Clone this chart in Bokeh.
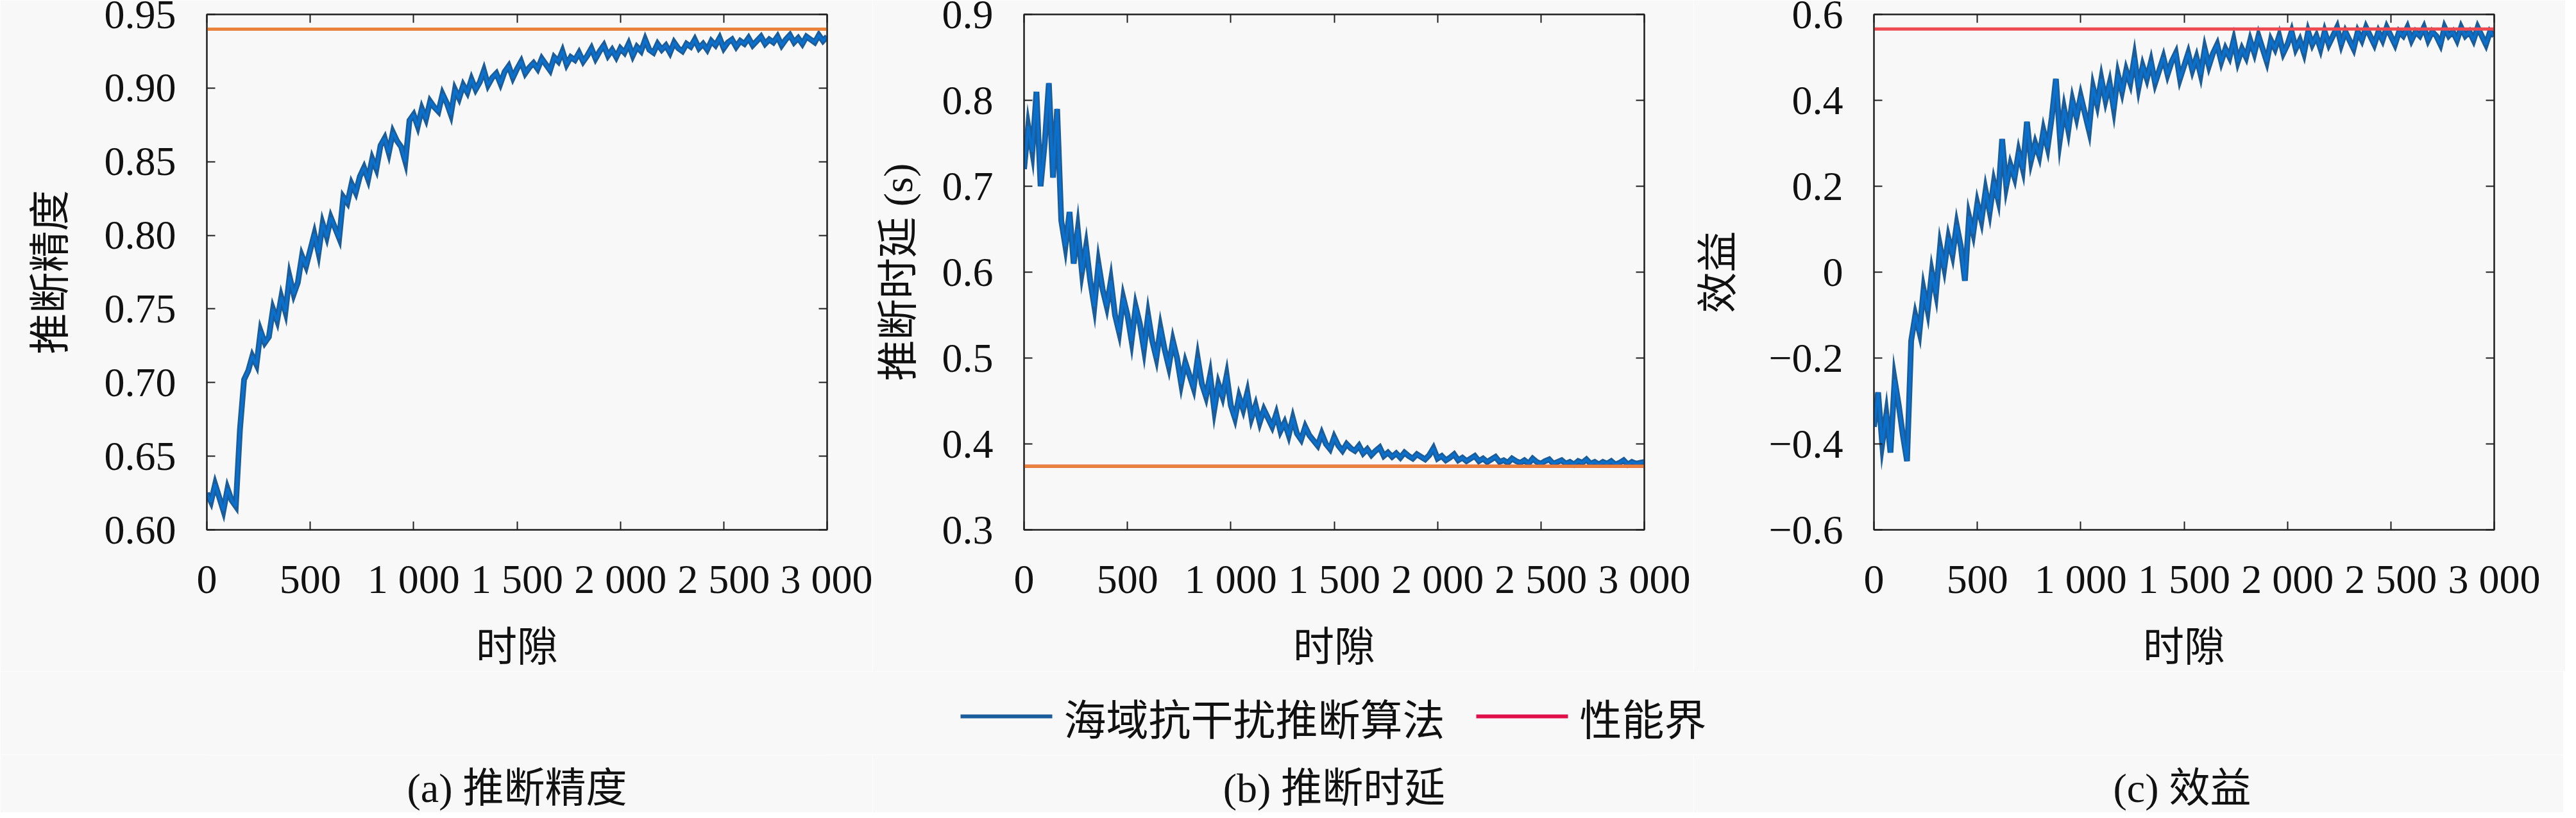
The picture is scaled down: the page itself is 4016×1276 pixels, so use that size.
from bokeh.plotting import figure
from bokeh.models import Range1d, LinearAxis, FixedTicker
from bokeh.layouts import row, column
from bokeh.core.properties import value
from bokeh.embed import file_html
from bokeh.resources import INLINE

# ---------------- data ----------------
slots = list(range(0, 3001, 20))

acc = [
    0.625, 0.619, 0.631, 0.622, 0.613, 0.628, 0.620, 0.616, 0.668, 0.702,
    0.708, 0.718, 0.712, 0.735, 0.727, 0.731, 0.750, 0.742, 0.758, 0.748,
    0.772, 0.760, 0.768, 0.786, 0.779, 0.790, 0.801, 0.788, 0.808, 0.799,
    0.812, 0.805, 0.798, 0.826, 0.822, 0.835, 0.829, 0.840, 0.846, 0.838,
    0.852, 0.845, 0.861, 0.866, 0.856, 0.870, 0.864, 0.860, 0.850, 0.878,
    0.882, 0.874, 0.886, 0.879, 0.891, 0.887, 0.884, 0.896, 0.890, 0.882,
    0.899, 0.893, 0.902, 0.897, 0.906, 0.899, 0.904, 0.912, 0.902, 0.907,
    0.910, 0.903, 0.911, 0.915, 0.907, 0.913, 0.918, 0.910, 0.914, 0.917,
    0.913, 0.920, 0.916, 0.912, 0.921, 0.918, 0.925, 0.916, 0.921, 0.919,
    0.924, 0.918, 0.922, 0.927, 0.920, 0.925, 0.929, 0.922, 0.926, 0.921,
    0.927, 0.924, 0.930, 0.922, 0.928, 0.925, 0.933, 0.926, 0.924, 0.930,
    0.926, 0.929, 0.924, 0.931, 0.927, 0.925, 0.930, 0.928, 0.933, 0.927,
    0.930, 0.926, 0.932, 0.929, 0.934, 0.927, 0.931, 0.933, 0.928, 0.932,
    0.930, 0.934, 0.929, 0.932, 0.935, 0.930, 0.933, 0.931, 0.935, 0.929,
    0.933, 0.936, 0.931, 0.934, 0.930, 0.935, 0.933, 0.931, 0.936, 0.932,
    0.935,
]

lat = [
    0.72, 0.77, 0.74, 0.81, 0.70, 0.75, 0.82, 0.71, 0.79, 0.66,
    0.63, 0.67, 0.61, 0.65, 0.60, 0.63, 0.59, 0.56, 0.61, 0.58,
    0.56, 0.59, 0.55, 0.53, 0.57, 0.55, 0.52, 0.56, 0.54, 0.51,
    0.55, 0.52, 0.50, 0.535, 0.51, 0.49, 0.52, 0.50, 0.47, 0.495,
    0.48, 0.465, 0.50, 0.47, 0.455, 0.48, 0.44, 0.47, 0.455, 0.48,
    0.445, 0.43, 0.455, 0.44, 0.46, 0.43, 0.445, 0.425, 0.44, 0.43,
    0.42, 0.435, 0.415, 0.425, 0.41, 0.43, 0.412, 0.405, 0.42, 0.41,
    0.404, 0.398, 0.412, 0.40, 0.394, 0.408, 0.398, 0.392, 0.40, 0.395,
    0.392, 0.398, 0.389, 0.394, 0.387, 0.392, 0.396, 0.386, 0.39, 0.385,
    0.389, 0.384, 0.39, 0.386, 0.383, 0.388, 0.385, 0.382, 0.387, 0.395,
    0.383, 0.386, 0.381, 0.384, 0.388, 0.381, 0.384, 0.380, 0.383, 0.386,
    0.380, 0.383, 0.379, 0.382, 0.385, 0.379, 0.381, 0.378, 0.383, 0.380,
    0.378, 0.381, 0.377, 0.383, 0.379, 0.377, 0.380, 0.382, 0.377, 0.379,
    0.381, 0.377, 0.379, 0.376, 0.380, 0.378, 0.382, 0.377, 0.379, 0.376,
    0.379, 0.377, 0.380, 0.376, 0.378, 0.381, 0.376, 0.379, 0.377, 0.378,
    0.379,
]

util = [
    -0.36, -0.28, -0.40, -0.33, -0.42, -0.25, -0.31, -0.38, -0.44, -0.16,
    -0.10, -0.14, -0.04, -0.09, 0.00, -0.05, 0.06, 0.01, 0.08, 0.04,
    0.11, 0.06, -0.02, 0.13, 0.09, 0.16, 0.12, 0.19, 0.14, 0.21,
    0.17, 0.31, 0.20, 0.25, 0.22, 0.28, 0.24, 0.35, 0.26, 0.30,
    0.27, 0.33, 0.29, 0.36, 0.45, 0.31, 0.38, 0.33, 0.40, 0.36,
    0.41, 0.37, 0.33, 0.43, 0.39, 0.45, 0.40, 0.44, 0.38, 0.46,
    0.42, 0.47, 0.44, 0.50, 0.43, 0.48, 0.45, 0.49, 0.44, 0.47,
    0.50, 0.46, 0.49, 0.51, 0.45, 0.48, 0.51, 0.47, 0.50, 0.46,
    0.52, 0.48, 0.51, 0.53, 0.49, 0.52, 0.50, 0.54, 0.49, 0.52,
    0.50, 0.54, 0.51, 0.55, 0.52, 0.49, 0.54, 0.52, 0.55, 0.51,
    0.53, 0.56, 0.52, 0.54, 0.51, 0.56, 0.53, 0.55, 0.52, 0.56,
    0.53, 0.55, 0.57, 0.53, 0.56, 0.54, 0.52, 0.56, 0.54, 0.57,
    0.55, 0.53, 0.56, 0.54, 0.57, 0.55, 0.53, 0.56, 0.55, 0.57,
    0.54, 0.56, 0.55, 0.57, 0.54, 0.56, 0.55, 0.53, 0.57, 0.55,
    0.56, 0.54, 0.57, 0.55, 0.56, 0.54, 0.57, 0.55, 0.53, 0.56,
    0.55,
]

acc_bound = 0.940
lat_bound = 0.374
util_bound = 0.566

x_ticks = [0, 500, 1000, 1500, 2000, 2500, 3000]
x_tick_labels = ["0", "500", "1 000", "1 500", "2 000", "2 500", "3 000"]
acc_ticks = [0.60, 0.65, 0.70, 0.75, 0.80, 0.85, 0.90, 0.95]
acc_tick_labels = ["0.60", "0.65", "0.70", "0.75", "0.80", "0.85", "0.90", "0.95"]
lat_ticks = [0.3, 0.4, 0.5, 0.6, 0.7, 0.8, 0.9]
lat_tick_labels = ["0.3", "0.4", "0.5", "0.6", "0.7", "0.8", "0.9"]
util_ticks = [-0.6, -0.4, -0.2, 0.0, 0.2, 0.4, 0.6]
util_tick_labels = ["\u22120.6", "\u22120.4", "\u22120.2", "0", "0.2", "0.4", "0.6"]

series_name = "海域抗干扰推断算法"
bound_name = "性能界"
x_title = "时隙"
captions = ["(a) 推断精度", "(b) 推断时延", "(c) 效益"]

# ---------------- style ----------------
NUM = "Liberation Serif"
MIX = "Liberation Serif, Noto Sans CJK SC"
CJK = "Noto Sans CJK SC"
BG = "#F8F8F8"
AX = "#1E1E1E"
TXT = "#111111"
BLUE_D = "#1B5C9B"
BLUE_L = "#0A70CC"
ORANGE = "#E9823A"
RED = "#E0104A"
RED_C = "#EC4A50"
FW, FH = 967, 804
TOP, BOTTOM = 22, 216
BORDERS = [(322, 71), (236, 77), (278, 111)]
LEG_H = 130
CAP_H = 86


def style_axis(ax, standoff):
    ax.axis_line_color = AX
    ax.axis_line_width = 2
    ax.major_tick_in = 13
    ax.major_tick_out = 0
    ax.major_tick_line_color = AX
    ax.major_tick_line_width = 2
    ax.minor_tick_line_color = None
    ax.major_label_text_font = NUM
    ax.major_label_text_font_size = "64px"
    ax.major_label_text_color = TXT
    ax.major_label_standoff = standoff
    ax.axis_label_text_font = MIX
    ax.axis_label_text_font_size = "64px"
    ax.axis_label_text_font_style = "normal"
    ax.axis_label_text_color = TXT


def mirror_axis(ticks):
    return LinearAxis(
        ticker=FixedTicker(ticks=ticks),
        major_label_overrides={t: "" for t in ticks},
        major_label_text_font_size="1px",
        major_label_standoff=0,
        major_tick_in=13, major_tick_out=0,
        major_tick_line_color=AX, major_tick_line_width=2,
        minor_tick_line_color=None,
        axis_line_color=AX, axis_line_width=2,
    )


def panel(ys, ylo, yhi, yticks, ylabels, ylabel, borders, lab_standoff):
    bl, br = borders
    p = figure(
        frame_width=FW, frame_height=FH,
        min_border_left=bl, min_border_right=br,
        min_border_top=TOP, min_border_bottom=BOTTOM,
        x_range=Range1d(0, 3000), y_range=Range1d(ylo, yhi),
        output_backend="svg", toolbar_location=None,
        background_fill_color=BG, border_fill_color=BG,
        outline_line_color=AX, outline_line_width=2,
    )
    p.grid.visible = False
    xa = p.xaxis[0]
    ya = p.yaxis[0]
    xa.ticker = FixedTicker(ticks=x_ticks)
    xa.major_label_overrides = dict(zip(x_ticks, x_tick_labels))
    ya.ticker = FixedTicker(ticks=yticks)
    ya.major_label_overrides = dict(zip(yticks, ylabels))
    style_axis(xa, 41)
    style_axis(ya, 48)
    xa.axis_label = x_title
    xa.axis_label_standoff = 32
    ya.axis_label = ylabel
    ya.axis_label_standoff = lab_standoff
    p.add_layout(mirror_axis(x_ticks), "above")
    p.add_layout(mirror_axis(yticks), "right")
    p.line(slots, ys, line_color=BLUE_D, line_width=9, line_join="miter")
    p.line(slots, ys, line_color=BLUE_L, line_width=4)
    return p


def caption_fig(text, borders):
    bl, br = borders
    p = figure(
        frame_width=FW, frame_height=1,
        min_border_left=bl, min_border_right=br, min_border_top=0, min_border_bottom=CAP_H - 1,
        x_range=Range1d(0, 1), y_range=Range1d(0, 1), y_axis_location=None,
        output_backend="svg", toolbar_location=None,
        background_fill_color=BG, border_fill_color=BG, outline_line_color=None,
    )
    p.grid.visible = False
    ax = p.xaxis[0]
    ax.ticker = FixedTicker(ticks=[])
    ax.axis_line_color = None
    ax.major_tick_line_color = None
    ax.minor_tick_line_color = None
    ax.major_tick_in = 0
    ax.major_tick_out = 0
    ax.minor_tick_in = 0
    ax.minor_tick_out = 0
    ax.major_label_standoff = 0
    ax.major_label_text_font_size = "1px"
    ax.axis_label = text
    ax.axis_label_standoff = 15
    ax.axis_label_text_font = MIX
    ax.axis_label_text_font_size = "64px"
    ax.axis_label_text_font_style = "normal"
    ax.axis_label_text_color = TXT
    return p


pa = panel(acc, 0.60, 0.95, acc_ticks, acc_tick_labels, "推断精度", BORDERS[0], 46)
pa.line([slots[0], slots[-1]], [acc_bound, acc_bound], line_color=ORANGE, line_width=5)

pb = panel(lat, 0.3, 0.9, lat_ticks, lat_tick_labels, "推断时延 (s)", BORDERS[1], 30)
pb.line([slots[0], slots[-1]], [lat_bound, lat_bound], line_color=RED, line_width=5)
pb.line([slots[0], slots[-1]], [lat_bound, lat_bound], line_color=ORANGE, line_width=5)

pc = panel(util, -0.6, 0.6, util_ticks, util_tick_labels, "效益", BORDERS[2], 40)
pc.line([slots[0], slots[-1]], [util_bound, util_bound], line_color=RED_C, line_width=5)

# ---- legend strip (page pixels minus the 8px margin) ----
TOTAL_W = sum(bl + FW + br for bl, br in BORDERS)
pl = figure(
    width=TOTAL_W, height=LEG_H, min_border=0,
    x_range=Range1d(0, TOTAL_W), y_range=Range1d(0, LEG_H),
    x_axis_location=None, y_axis_location=None,
    output_backend="svg", toolbar_location=None,
    background_fill_color=BG, border_fill_color=BG, outline_line_color=None,
)
pl.grid.visible = False
leg_y = 60
leg_names = [series_name, bound_name]
leg_colors = [BLUE_D, RED]
leg_x0 = [1497, 2301]
sw_len, sw_gap = 143, 18
for name, col, x0 in zip(leg_names, leg_colors, leg_x0):
    pl.line([x0, x0 + sw_len], [leg_y, leg_y], line_color=col, line_width=6)
    pl.text(x=[x0 + sw_len + sw_gap], y=[leg_y], text=[name], text_baseline="middle",
            text_align="left", text_font=value(CJK), text_font_size="66px", text_color=TXT)

caps = [caption_fig(t, b) for t, b in zip(captions, BORDERS)]

layout = column(row(pa, pb, pc), pl, row(*caps))
open("out.html", "w").write(file_html(layout, INLINE))
